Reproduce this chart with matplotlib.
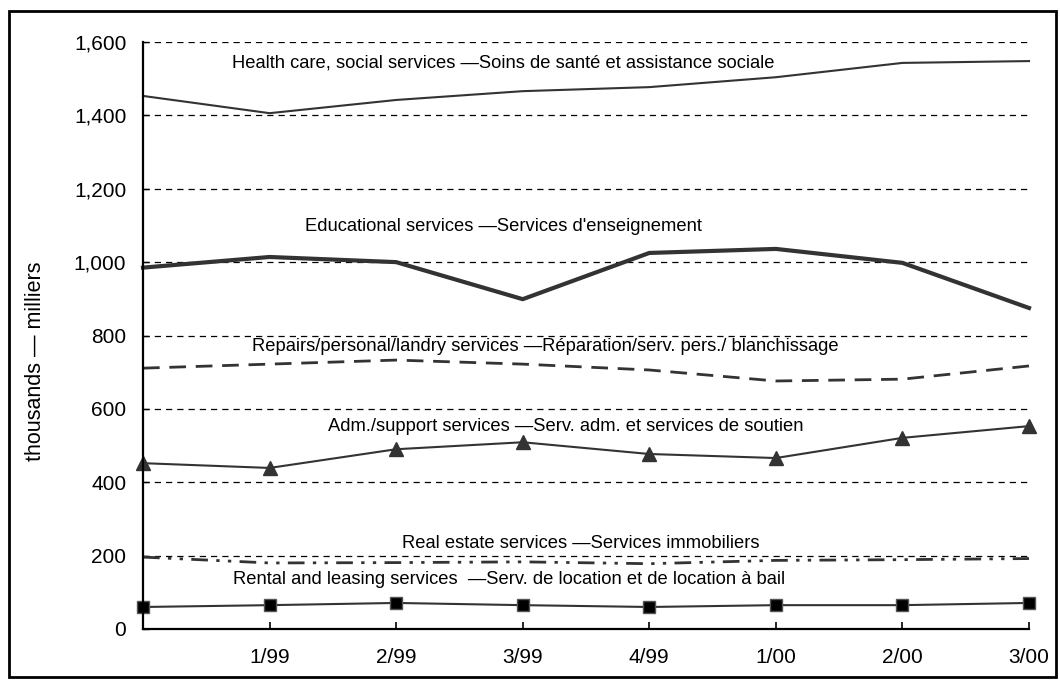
import matplotlib
matplotlib.use("Agg")
from matplotlib import pyplot as plt
from matplotlib.patches import Rectangle

plt.rcParams['font.family'] = ['Liberation Sans', 'DejaVu Sans']

# quarters (first one is unlabelled in the original)
quarters = ["", "1/99", "2/99", "3/99", "4/99", "1/00", "2/00", "3/00"]

health = [1453, 1406, 1442, 1466, 1477, 1504, 1543, 1548]
education = [985, 1014, 1000, 899, 1025, 1036, 998, 875]
repairs = [711, 722, 733, 722, 706, 676, 681, 717]
admin = [452, 439, 490, 509, 477, 466, 521, 553]
real_estate = [196, 180, 181, 183, 178, 187, 189, 192]
rental = [60, 65, 71, 65, 60, 65, 65, 71]

labels = {
    "health": "Health care, social services \u2014Soins de santé et assistance sociale",
    "education": "Educational services \u2014Services d'enseignement",
    "repairs": "Repairs/personal/landry services \u2014Réparation/serv. pers./ blanchissage",
    "admin": "Adm./support services \u2014Serv. adm. et services de soutien",
    "real_estate": "Real estate services \u2014Services immobiliers",
    "rental": "Rental and leasing services  \u2014Serv. de location et de location à bail",
}

fig = plt.figure(figsize=(10.6, 6.81), dpi=100)
ax = fig.add_axes([143 / 1060, 52 / 681, 886 / 1060, 587 / 681])

x = list(range(len(quarters)))
line_color = "#333333"

ax.plot(x, health, color=line_color, lw=1.5, clip_on=False)
ax.plot(x, education, color=line_color, lw=3.0, clip_on=False)
ax.plot(x, repairs, color=line_color, lw=2.0, linestyle=(0, (6, 3.5)), clip_on=False)
ax.plot(x, admin, color=line_color, lw=1.5, marker="^", markersize=10, clip_on=False)
ax.plot(x, real_estate, color=line_color, lw=2.0, linestyle=(0, (6, 3, 1.2, 3, 1.2, 3)), clip_on=False)
ax.plot(x, rental, color=line_color, lw=1.5, marker="s", markersize=9,
        markerfacecolor="black", markeredgecolor="#555555", clip_on=False)

# labels placed above each series
fs = 13.2
ax.text(0.70, 1543, labels["health"], fontsize=fs, va="center", ha="left")
ax.text(1.28, 1098, labels["education"], fontsize=fs, va="center", ha="left")
ax.text(0.86, 769, labels["repairs"], fontsize=fs, va="center", ha="left")
ax.text(1.46, 551, labels["admin"], fontsize=fs, va="center", ha="left")
ax.text(2.05, 232, labels["real_estate"], fontsize=fs, va="center", ha="left")
ax.text(0.71, 136, labels["rental"], fontsize=fs, va="center", ha="left")

ax.set_xlim(0, 7)
ax.set_ylim(0, 1600)
ax.set_xticks(x)
ax.set_xticklabels(quarters)
ax.set_yticks(range(0, 1601, 200))
ax.set_yticklabels(["{:,}".format(v) for v in range(0, 1601, 200)])

# dashed horizontal grid
for v in range(200, 1601, 200):
    ax.axhline(v, color="black", lw=0.9, linestyle=(0, (5, 4)), zorder=0)

for side in ["top", "right"]:
    ax.spines[side].set_visible(False)
for side in ["left", "bottom"]:
    ax.spines[side].set_linewidth(1.6)
    ax.spines[side].set_color("black")

ax.tick_params(axis="x", direction="in", length=5, width=1.2, labelsize=15, pad=14)
ax.tick_params(axis="y", direction="in", length=4, width=1.0, labelsize=15, pad=12)

# y axis title, placed where it sits in the original
fig.text(36 / 1060, 1 - 361 / 681, "thousands \u2014 milliers", fontsize=15.5,
         rotation=90, ha="center", va="center")

# outer frame
fig.patches.append(Rectangle((9 / 1060, 4 / 681), 1047 / 1060, 666 / 681,
                             transform=fig.transFigure, fill=False,
                             edgecolor="black", lw=2))

fig.savefig("out.png", dpi=100)
